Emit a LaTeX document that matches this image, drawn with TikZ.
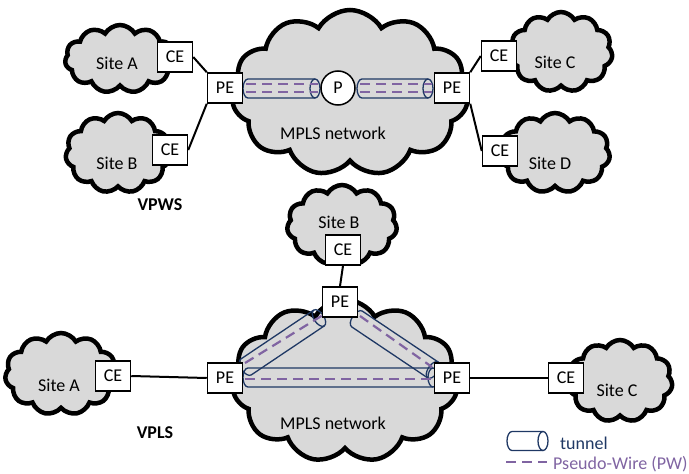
\documentclass[tikz,border=0pt]{standalone}
\usepackage{fontspec}
\setmainfont{Carlito}
\usetikzlibrary{shapes.symbols, calc}
\definecolor{cloudgray}{RGB}{217,217,217}
\definecolor{tunnelblue}{RGB}{31,56,100}
\definecolor{pwpurple}{RGB}{128,100,162}

\tikzset{
  site/.style={cloud, cloud puffs=11, cloud puff arc=120, draw=black,
    line width=4.5pt, fill=cloudgray, inner sep=0pt},
  box/.style={draw=black, line width=1.5pt, fill=white, inner sep=0pt,
    minimum width=35pt, minimum height=30pt},
  link/.style={line width=2pt},
  tunnelline/.style={draw=tunnelblue, line width=1.3pt},
  pw/.style={pwpurple, line width=2.2pt, dash pattern=on 10pt off 6pt},
}

% tube between two named points, ends drawn as ellipses
\newcommand{\tunnel}[2]{%
  \pgfpointdiff{\pgfpointanchor{#1}{center}}{\pgfpointanchor{#2}{center}}%
  \pgfgetlastxy{\tdx}{\tdy}%
  \pgfmathsetmacro{\tang}{atan2(\tdy,\tdx)}%
  \pgfmathsetmacro{\tlen}{veclen(\tdx,\tdy)}%
  \begin{scope}[shift={(#1)}, rotate=\tang]
    \draw[tunnelline] (\tlen pt,9.5pt) -- (0pt,9.5pt)
      arc[start angle=90, end angle=270, x radius=5pt, y radius=9.5pt]
      -- (\tlen pt,-9.5pt);
    \draw[tunnelline] (\tlen pt,0pt) ellipse[x radius=5pt, y radius=9.5pt];
  \end{scope}}

\begin{document}
\begin{tikzpicture}[x=1pt, y=-1pt, font=\fontsize{18}{21}\selectfont]
  \useasboundingbox (0,0) rectangle (689,474);

  % VPWS
  \node[site, minimum width=110pt, minimum height=68pt] (tA) at (120,59) {};
  \node[site, minimum width=105pt, minimum height=80pt] (tB) at (118,153) {};
  \node[site, minimum width=236pt, minimum height=166pt] (tMpls) at (350,93) {};
  \node[site, minimum width=103pt, minimum height=80pt] (tC) at (561,52) {};
  \node[site, minimum width=110pt, minimum height=80pt] (tD) at (555,153) {};
  \node (tAtxt) at (117,63) {Site A};
  \node (tBtxt) at (117,163) {Site B};
  \node (tCtxt) at (555,62) {Site C};
  \node (tDtxt) at (550,163) {Site D};
  \node (tMtxt) at (333,133) {MPLS network};

  \coordinate (t1) at (248,88.5);
  \coordinate (t2) at (315,88.5);
  \coordinate (t3) at (362,88.5);
  \coordinate (t4) at (428,88.5);
  \tunnel{t1}{t2}
  \tunnel{t3}{t4}
  \draw[pw] (246,84) -- (318,84);
  \draw[pw] (246,92) -- (318,92);
  \draw[pw] (360,84) -- (432,84);
  \draw[pw] (360,92) -- (432,92);

  \node[box] (ceTA) at (175,57) {CE};
  \node[box] (ceTB) at (170,150) {CE};
  \node[box] (peTL) at (225,88) {PE};
  \node[circle, draw=black, line width=1.5pt, fill=white, minimum size=34pt,
    inner sep=0pt] (pTop) at (338,88) {P};
  \node[box] (peTR) at (452,88) {PE};
  \node[box] (ceTC) at (499,56) {CE};
  \node[box] (ceTD) at (500,151) {CE};
  \draw[link] (ceTA.east) -- (peTL.north west);
  \draw[link] (ceTB.east) -- (peTL.south west);
  \draw[link] (peTR.north east) -- (ceTC.west);
  \draw[link] (peTR.south east) -- (ceTD.west);
  \node[font=\fontsize{18}{21}\selectfont\bfseries] (vpws) at (160,205) {VPWS};

  % VPLS
  \node[site, minimum width=110pt, minimum height=80pt] (bB) at (342,225) {};
  \node[site, minimum width=225pt, minimum height=163pt] (bMpls) at (345,381) {};
  \node[site, minimum width=112pt, minimum height=82pt] (bA) at (61,374) {};
  \node[site, minimum width=105pt, minimum height=82pt] (bC) at (620,381) {};
  \node (bBtxt) at (339,222) {Site B};
  \node (bAtxt) at (59,385) {Site A};
  \node (bCtxt) at (617,390) {Site C};
  \node (bMtxt) at (333,423) {MPLS network};

  \coordinate (b1) at (248,377.5);
  \coordinate (b2) at (433,377.5);
  \coordinate (b3) at (246,367);
  \coordinate (b4) at (319,318);
  \coordinate (b5) at (357,319);
  \coordinate (b6) at (433,370);
  \tunnel{b1}{b2}
  \tunnel{b3}{b4}
  \tunnel{b5}{b6}
  \draw[pw] (245,379) -- (433,379);
  \draw[pw] (245,363) -- (323,315);
  \draw[pw] (360,316) -- (432,367);

  \node[box] (ceBB) at (343,250) {CE};
  \node[box] (peBT) at (340,302) {PE};
  \node[box] (peBL) at (225,378) {PE};
  \node[box] (peBR) at (452,378) {PE};
  \node[box] (ceBA) at (113,376) {CE};
  \node[box] (ceBC) at (566,378) {CE};
  \draw[link] (ceBB.south) -- (peBT.north);
  \draw[link] (ceBA.east) -- (peBL.west);
  \draw[link] (peBR.east) -- (ceBC.west);
  \node[font=\fontsize{18}{21}\selectfont\bfseries] (vpls) at (155,433) {VPLS};

  % legend
  \coordinate (l1) at (512,441);
  \coordinate (l2) at (543,441);
  \tunnel{l1}{l2}
  \node[tunnelblue, anchor=base west, inner sep=0pt] (ltun) at (560,449) {tunnel};
  \coordinate (l3) at (506,462);
  \coordinate (l4) at (547,462);
  \draw[pw] (l3) -- (l4);
  \node[pwpurple, anchor=base west, inner sep=0pt] (lpw) at (553,469) {Pseudo-Wire (PW)};
\end{tikzpicture}
\end{document}
